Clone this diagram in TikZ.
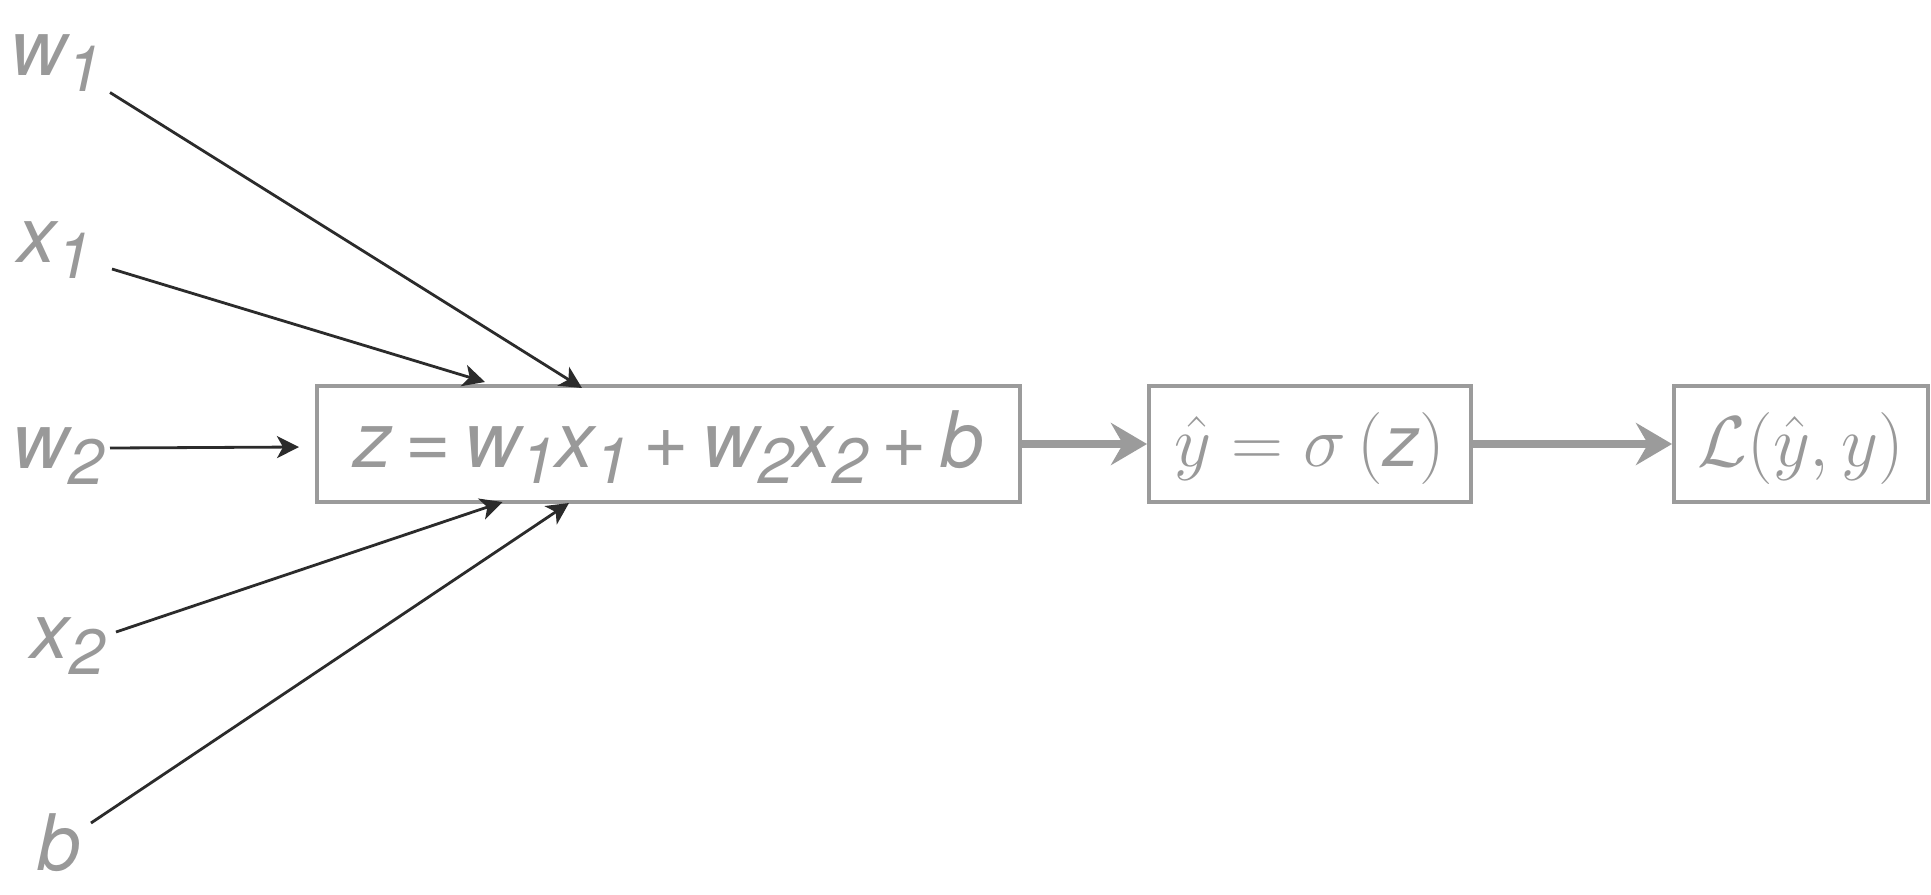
\RequirePackage{fix-cm}
\documentclass[tikz,border=0pt]{standalone}
\usepackage{fontspec}
\setmainfont{TeX Gyre Heros}
\usetikzlibrary{arrows.meta}
\definecolor{txtgrey}{HTML}{999999}
\definecolor{boxgrey}{HTML}{9B9B9B}
\definecolor{darkline}{HTML}{2B2B2B}
\newcommand{\subsc}[1]{\raisebox{-8pt}{\fontsize{32}{32}\selectfont #1}}
\newcommand{\gap}{\hspace{6.5pt}}
\begin{document}
\begin{tikzpicture}[x=0.5pt,y=-0.5pt,
  lbl/.style={anchor=base west, inner sep=0pt, text=txtgrey, font=\fontsize{39}{39}\selectfont\itshape},
  calcbox/.style={draw=boxgrey, line width=2pt, inner sep=0pt, text=txtgrey, minimum height=58pt},
  inarrow/.style={draw=darkline, line width=1.4pt, -{Stealth[length=11pt,width=11pt,inset=3pt]}},
  flowarrow/.style={draw=boxgrey, line width=3.6pt, -{Stealth[length=18pt,width=21pt,inset=6pt]}}
]
\useasboundingbox (0,0) rectangle (1931,894);
\fill[white] (0,0) rectangle (1931,894);

% boxes
\node[calcbox, minimum width=351.5pt,
      text height=30pt, text depth=7pt, font=\fontsize{39}{39}\selectfont\itshape]
  (zbox) at (668.5,444) {z\gap=\gap w\subsc{1}x\subsc{1}\gap+\gap w\subsc{2}x\subsc{2}\gap+\gap b\hspace{22pt}};
\node[calcbox, minimum width=160.75pt, text height=28pt, text depth=6pt, font=\fontsize{36}{36}\selectfont]
  (sbox) at (1309.75,444) {$\hat{y} = \sigma\,(\textit{z})$};
\node[calcbox, minimum width=127pt, text height=28pt, text depth=6pt, font=\fontsize{36}{36}\selectfont]
  (lbox) at (1801,444) {$\mathcal{L}(\hat{y},y)$};

% input labels
\node[lbl] (w1) at (10,75) {w\subsc{1}};
\node[lbl] (x1) at (17,262) {x\subsc{1}};
\node[lbl] (w2) at (12,468) {w\subsc{2}};
\node[lbl] (x2) at (30,658) {x\subsc{2}};
\node[lbl] (bl) at (37,870) {b};

% connector end points
\coordinate (w1s) at (110,92.5);
\coordinate (w1e) at (582,388);
\coordinate (x1s) at (112,269);
\coordinate (x1e) at (485,382);
\coordinate (w2s) at (110,448);
\coordinate (w2e) at (299,447);
\coordinate (x2s) at (116,632);
\coordinate (x2e) at (502.5,502);
\coordinate (bs) at (91,823);
\coordinate (be) at (569,503);

\draw[inarrow] (w1s) -- (w1e);
\draw[inarrow] (x1s) -- (x1e);
\draw[inarrow] (w2s) -- (w2e);
\draw[inarrow] (x2s) -- (x2e);
\draw[inarrow] (bs) -- (be);

\draw[flowarrow] (zbox.east) -- (sbox.west);
\draw[flowarrow] (sbox.east) -- (lbox.west);
\end{tikzpicture}
\end{document}
